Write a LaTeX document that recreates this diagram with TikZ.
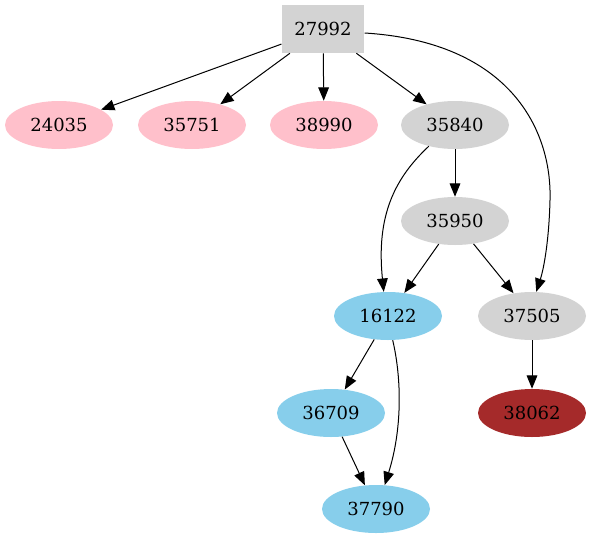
\documentclass[tikz,border=0pt]{standalone}
\usepackage{fontspec}
\setmainfont{DejaVu Serif}
\usetikzlibrary{arrows.meta,shapes.geometric}
\definecolor{gpink}{HTML}{FFC0CB}
\definecolor{ggray}{HTML}{D3D3D3}
\definecolor{gsky}{HTML}{87CEEB}
\definecolor{gbrown}{HTML}{A52A2A}
\tikzset{
  ell/.style={ellipse, draw=none, minimum width=81pt, minimum height=36pt, inner sep=0pt, font=\fontsize{13.5}{16}\selectfont},
  boxnode/.style={rectangle, draw=none, fill=ggray, minimum width=62pt, minimum height=36pt, inner sep=0pt, font=\fontsize{13.5}{16}\selectfont},
  edge/.style={draw=black, line width=0.75pt, -{Triangle[length=10pt,width=8pt]}}
}
\begin{document}
\begin{tikzpicture}[x=0.75pt,y=-0.75pt]
\useasboundingbox (0,0) rectangle (591,539);
\node[boxnode] (n27992) at (323,29) {27992};
\node[ell,fill=gpink] (n24035) at (59,125) {24035};
\node[ell,fill=gpink] (n35751) at (192,125) {35751};
\node[ell,fill=gpink] (n38990) at (324,125) {38990};
\node[ell,fill=ggray] (n35840) at (455,125) {35840};
\node[ell,fill=ggray] (n35950) at (455,221) {35950};
\node[ell,fill=gsky] (n16122) at (388,316) {16122};
\node[ell,fill=ggray] (n37505) at (532,316) {37505};
\node[ell,fill=gsky] (n36709) at (331,413) {36709};
\node[ell,fill=gbrown] (n38062) at (532,413) {38062};
\node[ell,fill=gsky] (n37790) at (376,509) {37790};

\draw[edge] (n27992) -- (n24035);
\draw[edge] (n27992) -- (n35751);
\draw[edge] (n27992) -- (n38990);
\draw[edge] (n27992) -- (n35840);
\draw[edge] ([yshift=-3pt]n27992.east) .. controls (510,42) and (552,130) .. (550,200) .. controls (549,240) and (544,268) .. (n37505.80);
\draw[edge] (n35840) -- (n35950);
\draw[edge] (n35840.-141) .. controls (395,178) and (376,215) .. (n16122.100);
\draw[edge] (n35950) -- (n16122);
\draw[edge] (n35950) -- (n37505);
\draw[edge] (n16122) -- (n36709);
\draw[edge] (n16122.-79) .. controls (402,380) and (402,430) .. (n37790.70);
\draw[edge] (n36709) -- (n37790);
\draw[edge] (n37505) -- (n38062);
\end{tikzpicture}
\end{document}
